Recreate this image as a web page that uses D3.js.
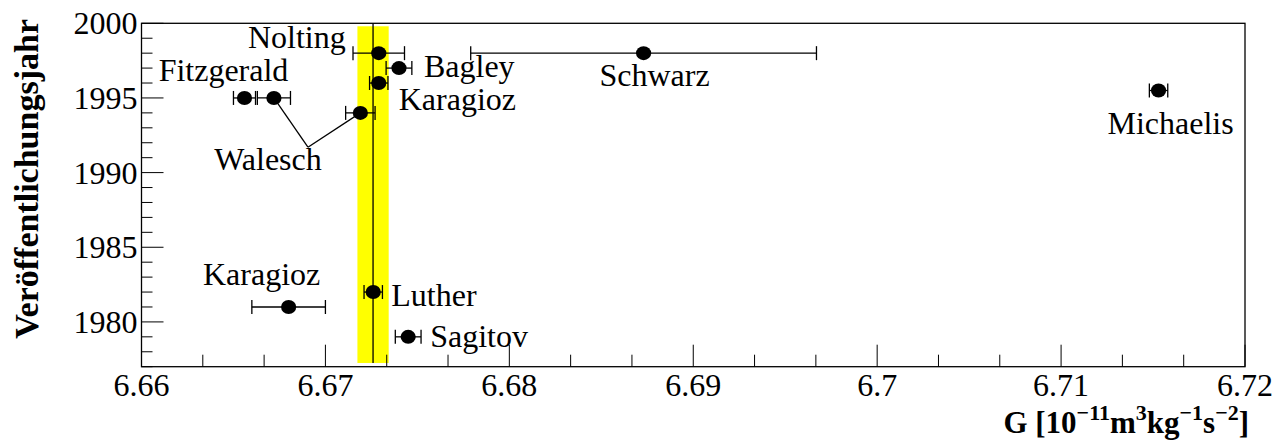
<!DOCTYPE html>
<html>
<head>
<meta charset="utf-8">
<script src="https://cdn.jsdelivr.net/npm/d3@7"></script>
<style>html,body{margin:0;background:#fff}</style>
</head>
<body>
<svg id="chart" width="1286" height="441"></svg>
<script>
// Measurements of the gravitational constant G by publication year
const names  = ["Nolting", "Bagley", "Karagioz", "Walesch", "Walesch", "Fitzgerald",
                "Schwarz", "Michaelis", "Karagioz", "Luther", "Sagitov"];
const years  = [1998, 1997, 1996, 1994, 1995, 1995, 1998, 1995.5, 1981, 1982, 1979];
const gValues = [6.6729, 6.6740, 6.6729, 6.6719, 6.6672, 6.6656,
                 6.6873, 6.7153, 6.6680, 6.6726, 6.6745];
const gErrors = [0.0014, 0.0007, 0.0005, 0.0008, 0.0009, 0.0006,
                 0.0094, 0.0005, 0.0020, 0.0005, 0.0007];

// CODATA reference value with its uncertainty band
const refValue = [6.67259];
const refError = [0.00085];
const refYears = [1977.25, 1999.8];

// Axis ranges and tick labels
const xDomain = [6.66, 6.72];
const yDomain = [1977, 2000];
const xTickValues = [6.66, 6.67, 6.68, 6.69, 6.70, 6.71, 6.72];
const xTickLabels = ["6.66", "6.67", "6.68", "6.69", "6.7", "6.71", "6.72"];
const yTickValues = [1980, 1985, 1990, 1995, 2000];
const yTickLabels = ["1980", "1985", "1990", "1995", "2000"];

const FONT = "'Liberation Serif'";

const points = names.map((n, i) => ({ name: n, year: years[i], g: gValues[i], err: gErrors[i], i }));

const svg = d3.select("#chart");
const frame = { left: 141.5, right: 1245, top: 23.3, bottom: 366.7 };

const x = d3.scaleLinear().domain(xDomain).range([frame.left, frame.right]);
const y = d3.scaleLinear().domain(yDomain).range([frame.bottom, frame.top]);

// Regular serif text, placed directly in the svg root
function addText(px, py, anchor, str) {
  return svg.append("text")
    .attr("x", px).attr("y", py)
    .attr("text-anchor", anchor)
    .attr("font-family", "Liberation Serif")
    .style("font-family", FONT)
    .style("font-weight", "normal")
    .style("font-size", "32px")
    .text(str);
}

// Reference band and line
svg.append("rect")
  .attr("x", x(refValue[0] - refError[0]))
  .attr("width", x(refValue[0] + refError[0]) - x(refValue[0] - refError[0]))
  .attr("y", y(refYears[1]))
  .attr("height", y(refYears[0]) - y(refYears[1]))
  .attr("fill", "#ffff00");
svg.append("line")
  .attr("x1", x(refValue[0])).attr("x2", x(refValue[0]))
  .attr("y1", y(yDomain[1])).attr("y2", y(refYears[0]))
  .attr("stroke", "#000").attr("stroke-width", 1.3);

// Minor and major ticks (pointing into the frame)
const xMinor = d3.range(0, 19).map(k => xDomain[0] + k * 0.01 / 3).filter((v, k) => k % 3 !== 0);
const yMinor = d3.range(yDomain[0], yDomain[1] + 1).filter(v => v % 5 !== 0);

const tickLines = svg.append("g").attr("stroke", "#000").attr("stroke-width", 1);
tickLines.selectAll(".xmin").data(xMinor).join("line")
  .attr("x1", d => x(d)).attr("x2", d => x(d))
  .attr("y1", frame.bottom).attr("y2", frame.bottom - 12);
tickLines.selectAll(".xmaj").data(xTickValues).join("line")
  .attr("x1", d => x(d)).attr("x2", d => x(d))
  .attr("y1", frame.bottom).attr("y2", frame.bottom - 22);
tickLines.selectAll(".ymin").data(yMinor).join("line")
  .attr("y1", d => y(d)).attr("y2", d => y(d))
  .attr("x1", frame.left).attr("x2", frame.left + 11);
tickLines.selectAll(".ymaj").data(yTickValues).join("line")
  .attr("y1", d => y(d)).attr("y2", d => y(d))
  .attr("x1", frame.left).attr("x2", frame.left + 22);

// Tick labels
xTickValues.forEach((v, i) => addText(x(v), frame.bottom + 29, "middle", xTickLabels[i]));
yTickValues.forEach((v, i) => addText(frame.left - 4, y(v) + 11, "end", yTickLabels[i]));

// Frame
svg.append("rect")
  .attr("x", frame.left).attr("y", frame.top)
  .attr("width", frame.right - frame.left).attr("height", frame.bottom - frame.top)
  .attr("fill", "none").attr("stroke", "#000").attr("stroke-width", 1.3);

// Connector lines from the shared Walesch label
const waleschApex = { g: 6.66905, year: 1991.7 };
svg.append("g").selectAll("line")
  .data(points.filter(p => p.name === "Walesch"))
  .join("line")
  .attr("x1", x(waleschApex.g)).attr("y1", y(waleschApex.year))
  .attr("x2", d => x(d.g)).attr("y2", d => y(d.year))
  .attr("stroke", "#000").attr("stroke-width", 1.3);

// Error bars with end caps
const capHalf = 7;
const eb = svg.append("g").attr("stroke", "#000").attr("stroke-width", 1.3);
points.forEach(p => {
  const yy = y(p.year), x0 = x(p.g - p.err), x1 = x(p.g + p.err);
  eb.append("line").attr("x1", x0).attr("x2", x1).attr("y1", yy).attr("y2", yy);
  eb.append("line").attr("x1", x0).attr("x2", x0).attr("y1", yy - capHalf).attr("y2", yy + capHalf);
  eb.append("line").attr("x1", x1).attr("x2", x1).attr("y1", yy - capHalf).attr("y2", yy + capHalf);
});

// Markers
svg.append("g").selectAll("ellipse")
  .data(points)
  .join("ellipse")
  .attr("cx", d => x(d.g)).attr("cy", d => y(d.year))
  .attr("rx", 7.6).attr("ry", 7)
  .attr("fill", "#000");

// Point labels: offset from each marker, in pixels
const labelPlacement = [
  { dx: -33, dy: -5, anchor: "end" },     // Nolting
  { dx: 25, dy: 9, anchor: "start" },     // Bagley
  { dx: 20, dy: 27, anchor: "start" },    // Karagioz 1996
  null,                                    // Walesch (shared label)
  null,                                    // Walesch (shared label)
  { dx: -21, dy: -17, anchor: "middle" }, // Fitzgerald
  { dx: 11, dy: 33, anchor: "middle" },   // Schwarz
  { dx: 12, dy: 44, anchor: "middle" },   // Michaelis
  { dx: -27, dy: -22, anchor: "middle" }, // Karagioz 1981
  { dx: 18, dy: 14, anchor: "start" },    // Luther
  { dx: 22, dy: 10, anchor: "start" }     // Sagitov
];

points.forEach((p, i) => {
  const lp = labelPlacement[i];
  if (!lp) return;
  addText(x(p.g) + lp.dx, y(p.year) + lp.dy, lp.anchor, p.name);
});
addText(x(waleschApex.g) - 40, y(waleschApex.year) + 23, "middle", "Walesch");

// Axis titles
const xt = svg.append("text")
  .attr("x", 1249).attr("y", 433)
  .attr("text-anchor", "end")
  .attr("font-family", "Liberation Serif").style("font-family", FONT)
  .attr("font-weight", "bold")
  .attr("font-size", 31);
xt.append("tspan").text("G [10");
xt.append("tspan").attr("font-size", 22).attr("dy", -13).text("\u221211");
xt.append("tspan").attr("dy", 13).text("m");
xt.append("tspan").attr("font-size", 22).attr("dy", -13).text("3");
xt.append("tspan").attr("dy", 13).text("kg");
xt.append("tspan").attr("font-size", 22).attr("dy", -13).text("\u22121");
xt.append("tspan").attr("dy", 13).text("s");
xt.append("tspan").attr("font-size", 22).attr("dy", -13).text("\u22122");
xt.append("tspan").attr("dy", 13).text("]");

svg.append("text")
  .attr("transform", "translate(38,19) rotate(-90)")
  .attr("text-anchor", "end")
  .attr("font-family", "Liberation Serif").style("font-family", FONT)
  .attr("font-weight", "bold")
  .attr("font-size", 34)
  .text("Veröffentlichungsjahr");
</script>
</body>
</html>
